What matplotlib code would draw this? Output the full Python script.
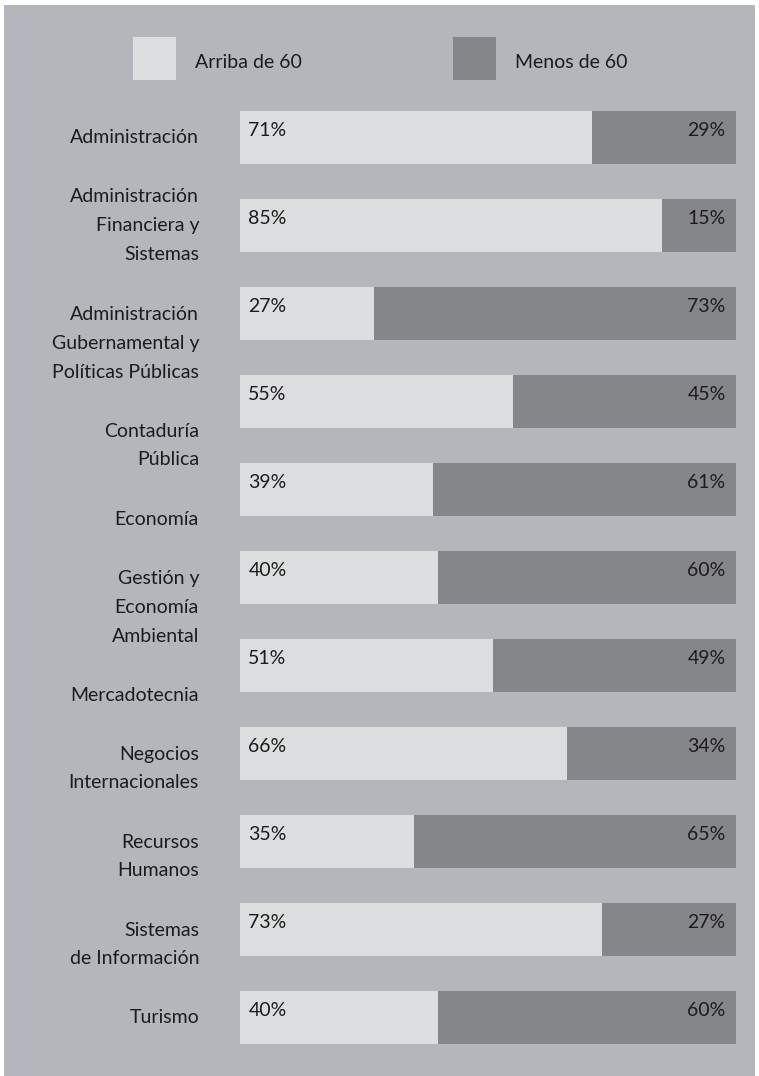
import matplotlib
matplotlib.use("Agg")
import matplotlib.pyplot as plt
from matplotlib.patches import Rectangle
from matplotlib import transforms

categories = [
    "Administración",
    "Administración\nFinanciera y\nSistemas",
    "Administración\nGubernamental y\nPolíticas Públicas",
    "Contaduría\nPública",
    "Economía",
    "Gestión y\nEconomía\nAmbiental",
    "Mercadotecnia",
    "Negocios\nInternacionales",
    "Recursos\nHumanos",
    "Sistemas\nde Información",
    "Turismo",
]
arriba = [71, 85, 27, 55, 39, 40, 51, 66, 35, 73, 40]
menos = [29, 15, 73, 45, 61, 60, 49, 34, 65, 27, 60]
series_names = ["Arriba de 60", "Menos de 60"]

# label vertical offsets (in bar units) relative to bar center — styling only
label_offsets = [0.0, 0.0, 0.34, 0.5, 0.34, 0.34, 0.34, 0.17, 0.17, 0.17, 0.0]

BG = "#b3b6bb"
LIGHT = "#dcdddf"
DARK = "#858689"
TXT = "#1c1c1c"
FONT = "Lato"
FS = 14

W, H = 759, 1076
fig = plt.figure(figsize=(W / 100, H / 100), dpi=100, facecolor="white")
fig.patches.append(Rectangle((4 / W, 0), 751 / W, 1071 / H,
                             transform=fig.transFigure, facecolor=BG,
                             edgecolor="none", zorder=-10))

ax = fig.add_axes([240 / W, (H - 1061.5) / H, 496 / W, 968 / H])
ax.set_facecolor("none")
n = len(categories)
ys = list(range(n))
ax.barh(ys, arriba, height=0.6, color=LIGHT, edgecolor="none")
ax.barh(ys, menos, left=arriba, height=0.6, color=DARK, edgecolor="none")
ax.set_xlim(0, 100)
ax.set_ylim(n - 0.5, -0.5)
ax.axis("off")

for i, (a, m) in enumerate(zip(arriba, menos)):
    ax.annotate(f"{a}%", xy=(0, i), xytext=(6, 5), textcoords="offset points",
                ha="left", va="center", fontsize=FS, family=FONT, color=TXT)
    ax.annotate(f"{m}%", xy=(100, i), xytext=(-7.5, 5), textcoords="offset points",
                ha="right", va="center", fontsize=FS, family=FONT, color=TXT)

tr = transforms.blended_transform_factory(fig.transFigure, ax.transData)
for i, (c, off) in enumerate(zip(categories, label_offsets)):
    ax.text(199 / W, i + off, c, transform=tr, ha="right", va="center",
            fontsize=FS, family=FONT, color=TXT, linespacing=1.83,
            multialignment="right")

# legend
for x0, col, name in [(133, LIGHT, series_names[0]), (453, DARK, series_names[1])]:
    fig.patches.append(Rectangle((x0 / W, (H - 80) / H), 43 / W, 43 / H,
                                 transform=fig.transFigure, facecolor=col,
                                 edgecolor="none"))
    fig.text((x0 + 62) / W, (H - 62) / H, name, ha="left", va="center",
             fontsize=FS, family=FONT, color=TXT)

fig.savefig("out.png", dpi=100, facecolor="white")
